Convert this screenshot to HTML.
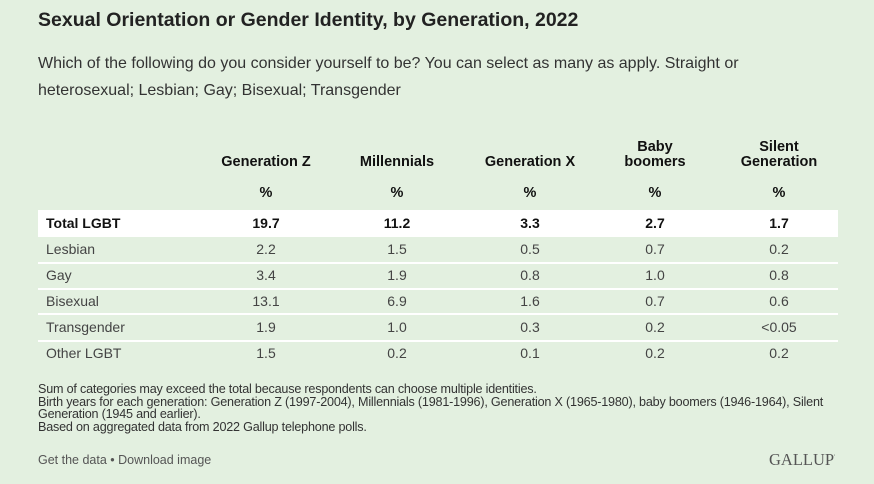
<!DOCTYPE html>
<html><head><style>
body{margin:0;width:874px;height:484px;background:#e3f0e0;font-family:"Liberation Sans",Arial,sans-serif;position:relative;overflow:hidden;color:#222}
.a{position:absolute;white-space:nowrap}
h1{position:absolute;left:38px;top:9px;margin:0;font-size:19.5px;font-weight:bold;color:#222}
.sub{position:absolute;left:38px;top:50px;width:800px;font-size:16px;line-height:27px;color:#333}
.row{position:absolute;left:38px;width:800px;height:25px;border-bottom:2px solid #fff}
.row div{position:absolute;top:4px;font-size:14px;color:#444}
.row .l{left:8px}
.c{width:120px;text-align:center;transform:translateX(-60px)}
.hd{position:absolute;font-weight:bold;font-size:14.5px;text-align:center;width:130px;line-height:15px;color:#111}
.tot div{font-weight:bold;color:#111}
.note{position:absolute;left:38px;top:383px;font-size:12.6px;line-height:12.7px;color:#333;letter-spacing:-0.2px;white-space:nowrap}
</style></head><body>
<h1>Sexual Orientation or Gender Identity, by Generation, 2022</h1>
<div class="sub">Which of the following do you consider yourself to be? You can select as many as apply. Straight or heterosexual; Lesbian; Gay; Bisexual; Transgender</div>
<div class="hd" style="left:201px;top:155px">Generation Z</div>
<div class="hd" style="left:332px;top:155px">Millennials</div>
<div class="hd" style="left:465px;top:155px">Generation X</div>
<div class="hd" style="left:590px;top:140px">Baby<br>boomers</div>
<div class="hd" style="left:714px;top:140px">Silent<br>Generation</div>
<div class="hd" style="left:201px;top:186px">%</div>
<div class="hd" style="left:332px;top:186px">%</div>
<div class="hd" style="left:465px;top:186px">%</div>
<div class="hd" style="left:590px;top:186px">%</div>
<div class="hd" style="left:714px;top:186px">%</div>
<div class="row tot" style="top:210px;background:#fff;height:27px;border:none"><div class="l" style="top:5px">Total LGBT</div><div class="c" style="left:228px;top:5px">19.7</div><div class="c" style="left:359px;top:5px">11.2</div><div class="c" style="left:492px;top:5px">3.3</div><div class="c" style="left:617px;top:5px">2.7</div><div class="c" style="left:741px;top:5px">1.7</div></div>
<div class="row" style="top:237px"><div class="l">Lesbian</div><div class="c" style="left:228px">2.2</div><div class="c" style="left:359px">1.5</div><div class="c" style="left:492px">0.5</div><div class="c" style="left:617px">0.7</div><div class="c" style="left:741px">0.2</div></div>
<div class="row" style="top:263px"><div class="l">Gay</div><div class="c" style="left:228px">3.4</div><div class="c" style="left:359px">1.9</div><div class="c" style="left:492px">0.8</div><div class="c" style="left:617px">1.0</div><div class="c" style="left:741px">0.8</div></div>
<div class="row" style="top:289px;height:24px"><div class="l">Bisexual</div><div class="c" style="left:228px">13.1</div><div class="c" style="left:359px">6.9</div><div class="c" style="left:492px">1.6</div><div class="c" style="left:617px">0.7</div><div class="c" style="left:741px">0.6</div></div>
<div class="row" style="top:315px"><div class="l">Transgender</div><div class="c" style="left:228px">1.9</div><div class="c" style="left:359px">1.0</div><div class="c" style="left:492px">0.3</div><div class="c" style="left:617px">0.2</div><div class="c" style="left:741px">&lt;0.05</div></div>
<div class="row" style="top:341px;border:none"><div class="l">Other LGBT</div><div class="c" style="left:228px">1.5</div><div class="c" style="left:359px">0.2</div><div class="c" style="left:492px">0.1</div><div class="c" style="left:617px">0.2</div><div class="c" style="left:741px">0.2</div></div>
<div class="note">Sum of categories may exceed the total because respondents can choose multiple identities.<br>Birth years for each generation: Generation Z (1997-2004), Millennials (1981-1996), Generation X (1965-1980), baby boomers (1946-1964), Silent<br>Generation (1945 and earlier).<br>Based on aggregated data from 2022 Gallup telephone polls.</div>
<div class="a" style="left:38px;top:453px;font-size:12.5px;color:#555">Get the data • Download image</div>
<div class="a" style="left:769px;top:450px;font-size:16.5px;color:#555;font-family:'Liberation Serif',serif">GALLUP<sup style="font-size:6px">'</sup></div>
</body></html>
